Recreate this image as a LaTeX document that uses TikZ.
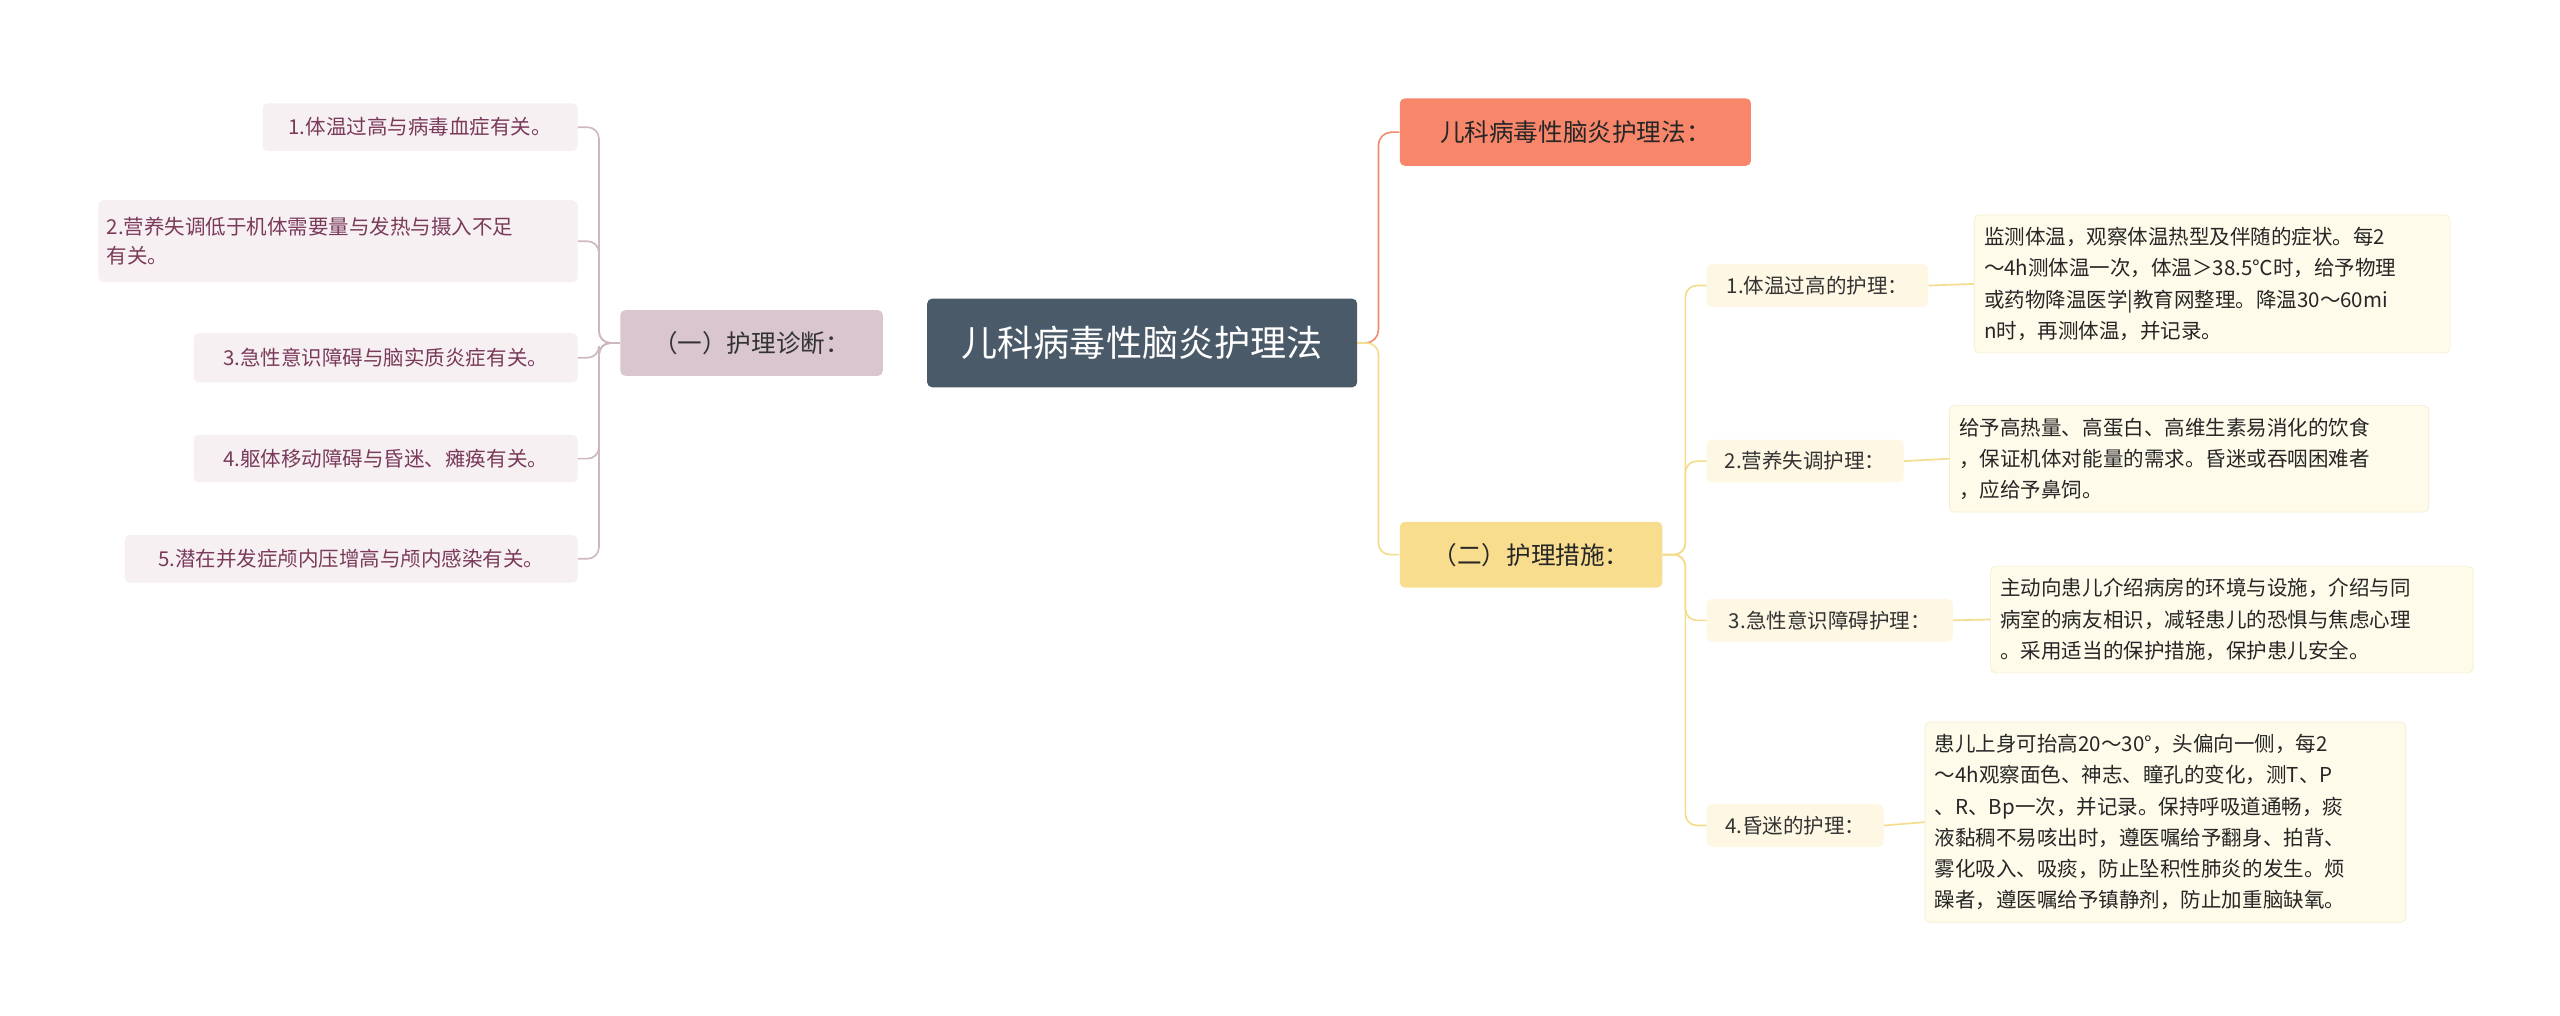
\documentclass[tikz,border=0pt]{standalone}
\usepackage{fontspec}
\setmainfont{Noto Sans CJK SC}
\begin{document}
\begin{tikzpicture}[x=1pt,y=-1pt,
 box/.style={rounded corners=3pt,inner sep=0pt,align=left},
 leaf/.style={box,fill=leafbg,text=leaftx,font=\fontsize{12.5}{18}\selectfont},
 sub/.style={box,fill=subbg,text=black!80,font=\fontsize{12.5}{18}\selectfont},
 det/.style={box,fill=detbg,draw=detbd,text=black!85,font=\fontsize{12.5}{19}\selectfont},
 lc/.style={draw=leafln,line width=1pt,rounded corners=7pt},
 yc/.style={draw=yln,line width=1pt,rounded corners=7pt},
]
\definecolor{leafbg}{HTML}{F7F0F3}\definecolor{leaftx}{HTML}{7A3B5A}
\definecolor{leafln}{HTML}{CDB8C2}\definecolor{subbg}{HTML}{FDF7E4}
\definecolor{detbg}{HTML}{FFFBEA}\definecolor{detbd}{HTML}{F6EDCC}
\definecolor{yln}{HTML}{F3DC8C}
\useasboundingbox[fill=white] (0,0) rectangle (1560,619);
\node[box,fill={rgb,255:red,74;green,90;blue,104},text=white,minimum width=262,minimum height=54,font=\fontsize{22}{26}\selectfont] (root) at (696,209) {儿科病毒性脑炎护理法};
\node[box,fill={rgb,255:red,217;green,198;blue,207},text=black!80,minimum width=160,minimum height=40,font=\fontsize{15}{18}\selectfont] (lb) at (458,209) {（一）护理诊断：};
\node[box,fill={rgb,255:red,247;green,134;blue,106},text=black!85,minimum width=214,minimum height=41,font=\fontsize{15}{18}\selectfont] (tb) at (960,80.5) {儿科病毒性脑炎护理法：};
\node[box,fill={rgb,255:red,248;green,221;blue,143},text=black!85,minimum width=160,minimum height=40,font=\fontsize{15}{18}\selectfont] (rb) at (933,338) {（二）护理措施：};
\node[leaf,minimum width=192,minimum height=29] (l1) at (256,77.5) {1.体温过高与病毒血症有关。};
\node[leaf,minimum width=292,minimum height=50,text width=282] (l2) at (206,147) {2.营养失调低于机体需要量与发热与摄入不足\\有关。};
\node[leaf,minimum width=234,minimum height=30] (l3) at (235,218) {3.急性意识障碍与脑实质炎症有关。};
\node[leaf,minimum width=234,minimum height=29] (l4) at (235,279.5) {4.躯体移动障碍与昏迷、瘫痪有关。};
\node[leaf,minimum width=276,minimum height=29] (l5) at (214,340.5) {5.潜在并发症颅内压增高与颅内感染有关。};
\foreach \n in {l1,l2,l3,l4,l5} \draw[lc] (lb.west) -- (365,209) |- (\n.east);
\draw[draw={rgb,255:red,240;green,140;blue,110},line width=1pt,rounded corners=8pt] (root.east) -- (840,209) |- (tb.west);
\draw[yc] (root.east) -- (840,209) |- (rb.west);
\node[sub,minimum width=135,minimum height=26] (s1) at (1107.5,174) {1.体温过高的护理：};
\node[sub,minimum width=120,minimum height=26] (s2) at (1100,281) {2.营养失调护理：};
\node[sub,minimum width=150,minimum height=26] (s3) at (1115,378) {3.急性意识障碍护理：};
\node[sub,minimum width=108,minimum height=26] (s4) at (1094,503) {4.昏迷的护理：};
\foreach \n in {s1,s2,s3,s4} \draw[yc] (rb.east) -- (1027,338) |- (\n.west);
\node[det,minimum width=290,minimum height=84,text width=278] (d1) at (1348,173) {监测体温，观察体温热型及伴随的症状。每2\\～4h测体温一次，体温＞38.5℃时，给予物理\\或药物降温医学|教育网整理。降温30～60mi\\n时，再测体温，并记录。};
\node[det,minimum width=292,minimum height=65,text width=280] (d2) at (1334,279.5) {给予高热量、高蛋白、高维生素易消化的饮食\\，保证机体对能量的需求。昏迷或吞咽困难者\\，应给予鼻饲。};
\node[det,minimum width=294,minimum height=65,text width=282] (d3) at (1360,377.5) {主动向患儿介绍病房的环境与设施，介绍与同\\病室的病友相识，减轻患儿的恐惧与焦虑心理\\。采用适当的保护措施，保护患儿安全。};
\node[det,minimum width=293,minimum height=122,text width=281] (d4) at (1319.5,501) {患儿上身可抬高20～30°，头偏向一侧，每2\\～4h观察面色、神志、瞳孔的变化，测T、P\\、R、Bp一次，并记录。保持呼吸道通畅，痰\\液黏稠不易咳出时，遵医嘱给予翻身、拍背、\\雾化吸入、吸痰，防止坠积性肺炎的发生。烦\\躁者，遵医嘱给予镇静剂，防止加重脑缺氧。};
\draw[yc] (s1.east) -- (d1.west);
\draw[yc] (s2.east) -- (d2.west);
\draw[yc] (s3.east) -- (d3.west);
\draw[yc] (s4.east) -- (d4.west);
\end{tikzpicture}
\end{document}
